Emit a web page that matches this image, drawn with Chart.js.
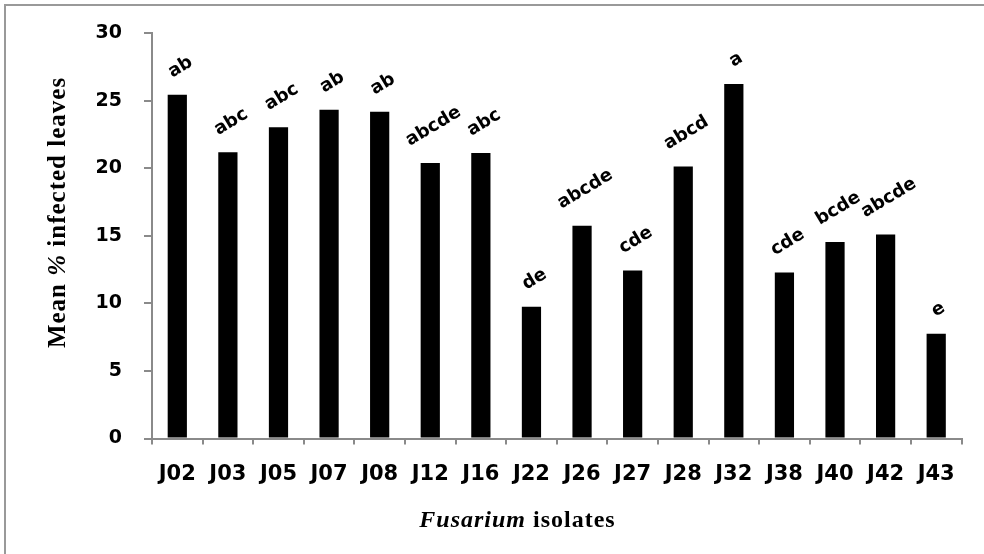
<!DOCTYPE html>
<html><head><meta charset="utf-8">
<script src="https://cdn.jsdelivr.net/npm/chart.js@4.4.1/dist/chart.umd.min.js"></script>
<style>html,body{margin:0;padding:0;background:#fff;}#wrap{width:984px;height:554px;position:relative}</style>
</head><body><div id="wrap"><canvas id="c" width="984" height="554"></canvas></div>
<script>
const categories = ['J02','J03','J05','J07','J08','J12','J16','J22','J26','J27','J28','J32','J38','J40','J42','J43'];
const meanInfected = [25.45, 21.2, 23.05, 24.35, 24.2, 20.4, 21.15, 9.75, 15.75, 12.45, 20.15, 26.25, 12.3, 14.55, 15.1, 7.75];
const groupLetters = ['ab','abc','abc','ab','ab','abcde','abc','de','abcde','cde','abcd','a','cde','bcde','abcde','e'];
const yMin = 0, yMax = 30, yStep = 5;
const yTitleParts = [['Mean ', false], ['%', true], [' infected leaves', false]];
const xTitleParts = [['Fusarium', true], [' isolates', false]];

const AXIS_COLOR = '#8a8a8a';
const LABEL_ANGLE = 31;

const framePlugin = {
  id: 'frame',
  beforeDraw(chart) {
    const ctx = chart.ctx;
    ctx.save();
    ctx.fillStyle = '#fff';
    ctx.fillRect(0, 0, chart.width, chart.height);
    ctx.strokeStyle = '#999';
    ctx.lineWidth = 2;
    ctx.strokeRect(5, 5, chart.width + 20, chart.height + 20);
    ctx.restore();
  }
};

function drawParts(ctx, parts, size, family, spacing) {
  let total = 0;
  const widths = parts.map(([t, it]) => {
    ctx.font = (it ? 'italic ' : '') + 'bold ' + size + 'px ' + family;
    ctx.letterSpacing = spacing + 'px';
    const w = ctx.measureText(t).width;
    total += w;
    return w;
  });
  let x = -total / 2;
  parts.forEach(([t, it], i) => {
    ctx.font = (it ? 'italic ' : '') + 'bold ' + size + 'px ' + family;
    ctx.letterSpacing = spacing + 'px';
    ctx.fillText(t, x, 0);
    x += widths[i];
  });
}

const titlePlugin = {
  id: 'titles',
  afterDraw(chart) {
    const ctx = chart.ctx;
    ctx.save();
    ctx.fillStyle = '#000';
    ctx.textAlign = 'left';
    ctx.textBaseline = 'alphabetic';
    ctx.save();
    ctx.translate(65, 212.5);
    ctx.rotate(-Math.PI / 2);
    drawParts(ctx, yTitleParts, 25, '"Liberation Serif", "Times New Roman", serif', 1);
    ctx.restore();
    ctx.save();
    ctx.translate(517.5, 527);
    drawParts(ctx, xTitleParts, 24, '"Liberation Serif", "Times New Roman", serif', 1);
    ctx.restore();
    ctx.restore();
  }
};

const letterPlugin = {
  id: 'letters',
  afterDatasetsDraw(chart) {
    const ctx = chart.ctx;
    const meta = chart.getDatasetMeta(0);
    const th = LABEL_ANGLE * Math.PI / 180;
    ctx.save();
    ctx.font = 'bold 18px "DejaVu Sans", sans-serif';
    ctx.fillStyle = '#000';
    meta.data.forEach((bar, i) => {
      const t = groupLetters[i];
      const m = ctx.measureText(t);
      const w = m.width;
      const asc = m.actualBoundingBoxAscent, desc = m.actualBoundingBoxDescent;
      const h = asc + desc;
      const bh = w * Math.sin(th) + h * Math.cos(th);
      const cx = bar.x + 2;
      const cy = bar.y - 17 - bh / 2;
      ctx.save();
      ctx.translate(cx, cy);
      ctx.rotate(-th);
      ctx.textAlign = 'center';
      ctx.textBaseline = 'alphabetic';
      ctx.fillText(t, 0, (asc - desc) / 2);
      ctx.restore();
    });
    ctx.restore();
  }
};

new Chart(document.getElementById('c'), {
  type: 'bar',
  data: {
    labels: categories,
    datasets: [{
      data: meanInfected,
      backgroundColor: '#000',
      borderWidth: 0,
      barPercentage: 0.38,
      categoryPercentage: 1.0
    }]
  },
  options: {
    responsive: false,
    animation: false,
    devicePixelRatio: 1,
    layout: { padding: { left: 0, top: 28, right: 22.5, bottom: 0 } },
    plugins: { legend: { display: false }, tooltip: { enabled: false } },
    scales: {
      x: {
        offset: true,
        grid: { display: true, offset: true, drawOnChartArea: false, drawTicks: true, tickLength: 6, color: AXIS_COLOR, lineWidth: 2 },
        border: { display: true, color: AXIS_COLOR, width: 2 },
        ticks: { color: '#000', font: { family: '"DejaVu Sans", sans-serif', size: 21, weight: 'bold' }, padding: 17, maxRotation: 0, autoSkip: false },
        afterFit(scale) { scale.height = 115.5; }
      },
      y: {
        min: yMin, max: yMax,
        grid: { display: true, drawOnChartArea: false, drawTicks: true, tickLength: 8, color: AXIS_COLOR, lineWidth: 2 },
        border: { display: true, color: AXIS_COLOR, width: 2 },
        ticks: { stepSize: yStep, color: '#000', font: { family: '"DejaVu Sans", sans-serif', size: 19, weight: 'bold' }, padding: 22 },
        afterFit(scale) { scale.width = 152; }
      }
    }
  },
  plugins: [framePlugin, letterPlugin, titlePlugin]
});
</script>
</body></html>
